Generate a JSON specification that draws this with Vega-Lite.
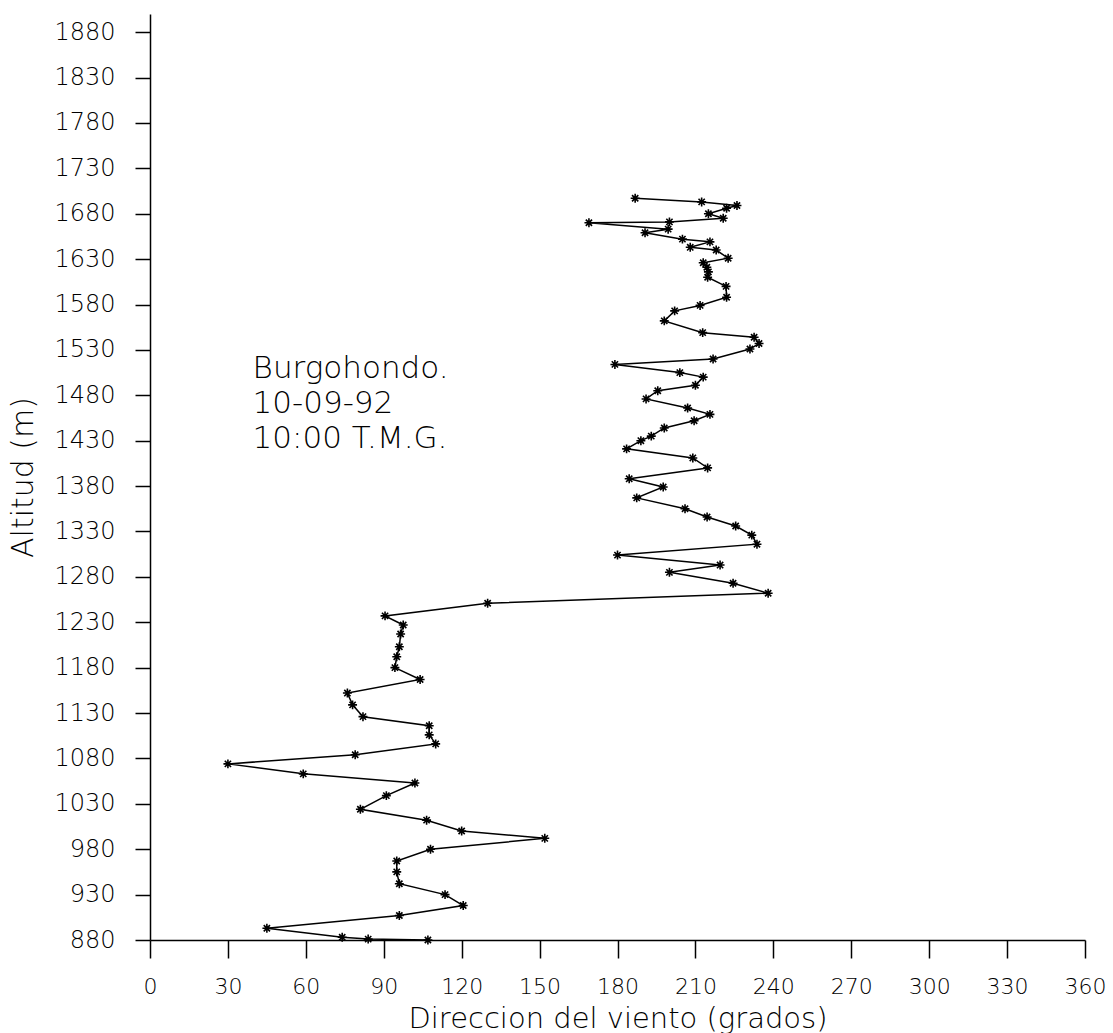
{
  "$schema": "https://vega.github.io/schema/vega-lite/v6.json",
  "width": 935,
  "height": 926,
  "autosize": {"type": "none"},
  "padding": {"left": 150, "top": 14, "right": 28, "bottom": 93},
  "background": "white",
  "config": {
    "view": {"stroke": null},
    "font": "DejaVu Sans",
    "axis": {
      "domainColor": "black",
      "domainWidth": 1.5,
      "tickColor": "black",
      "tickWidth": 1.5,
      "labelColor": "black",
      "titleColor": "black",
      "labelFont": "DejaVu Sans",
      "titleFont": "DejaVu Sans",
      "labelFontWeight": 200,
      "titleFontWeight": 200,
      "labelFontSize": 24,
      "grid": false,
      "format": "d"
    }
  },
  "datasets": {
    "wind": [
      {"alt": 880, "dir": 107},
      {"alt": 881, "dir": 84},
      {"alt": 883, "dir": 74},
      {"alt": 893, "dir": 45},
      {"alt": 907, "dir": 96},
      {"alt": 918, "dir": 120.6},
      {"alt": 930, "dir": 113.6},
      {"alt": 942, "dir": 96},
      {"alt": 955, "dir": 95},
      {"alt": 967, "dir": 95},
      {"alt": 980, "dir": 108},
      {"alt": 992, "dir": 152},
      {"alt": 1000, "dir": 120},
      {"alt": 1012, "dir": 106.5},
      {"alt": 1024, "dir": 81},
      {"alt": 1039, "dir": 91},
      {"alt": 1053, "dir": 102},
      {"alt": 1063, "dir": 59},
      {"alt": 1074, "dir": 30},
      {"alt": 1084, "dir": 79},
      {"alt": 1096, "dir": 110},
      {"alt": 1106, "dir": 107.5},
      {"alt": 1116, "dir": 107.5},
      {"alt": 1126, "dir": 82},
      {"alt": 1139, "dir": 78},
      {"alt": 1152, "dir": 76},
      {"alt": 1167, "dir": 104},
      {"alt": 1180, "dir": 94.3},
      {"alt": 1192, "dir": 95},
      {"alt": 1203, "dir": 96},
      {"alt": 1217, "dir": 96.5},
      {"alt": 1227, "dir": 97.5},
      {"alt": 1237, "dir": 90.5},
      {"alt": 1251, "dir": 130},
      {"alt": 1262, "dir": 238},
      {"alt": 1273, "dir": 224.5},
      {"alt": 1285, "dir": 200},
      {"alt": 1293, "dir": 219.5},
      {"alt": 1304, "dir": 180},
      {"alt": 1316, "dir": 233.7},
      {"alt": 1326, "dir": 231.7},
      {"alt": 1336, "dir": 225.5},
      {"alt": 1346, "dir": 214.5},
      {"alt": 1355, "dir": 206},
      {"alt": 1367, "dir": 187.4},
      {"alt": 1379, "dir": 197.6},
      {"alt": 1388, "dir": 184.5},
      {"alt": 1400, "dir": 214.7},
      {"alt": 1411, "dir": 209},
      {"alt": 1421, "dir": 183.5},
      {"alt": 1430, "dir": 189},
      {"alt": 1435, "dir": 193},
      {"alt": 1444, "dir": 198},
      {"alt": 1452, "dir": 209.5},
      {"alt": 1459, "dir": 215.6},
      {"alt": 1466, "dir": 207},
      {"alt": 1476, "dir": 191},
      {"alt": 1485, "dir": 195.5},
      {"alt": 1491, "dir": 210},
      {"alt": 1500, "dir": 213},
      {"alt": 1505, "dir": 204},
      {"alt": 1514, "dir": 179},
      {"alt": 1520, "dir": 216.8},
      {"alt": 1531, "dir": 231},
      {"alt": 1537, "dir": 234.5},
      {"alt": 1544, "dir": 232.6},
      {"alt": 1549, "dir": 212.8},
      {"alt": 1562, "dir": 198},
      {"alt": 1573, "dir": 202},
      {"alt": 1579, "dir": 211.8},
      {"alt": 1588, "dir": 222},
      {"alt": 1600, "dir": 221.8},
      {"alt": 1610, "dir": 214.7},
      {"alt": 1616, "dir": 215},
      {"alt": 1621, "dir": 214.4},
      {"alt": 1626, "dir": 213},
      {"alt": 1631, "dir": 222.6},
      {"alt": 1640, "dir": 218},
      {"alt": 1643, "dir": 208},
      {"alt": 1649, "dir": 215.6},
      {"alt": 1652, "dir": 205},
      {"alt": 1659, "dir": 190.6},
      {"alt": 1663, "dir": 199.5},
      {"alt": 1670, "dir": 169},
      {"alt": 1671, "dir": 200},
      {"alt": 1675, "dir": 220.7},
      {"alt": 1680, "dir": 215},
      {"alt": 1686, "dir": 222},
      {"alt": 1689, "dir": 226},
      {"alt": 1693, "dir": 212.4},
      {"alt": 1697, "dir": 186.8}
    ],
    "note": [
      {"label": "Burgohondo.", "line": 0},
      {"label": "10-09-92", "line": 1},
      {"label": "10:00 T.M.G.", "line": 2}
    ]
  },
  "layer": [
    {
      "data": {"name": "wind"},
      "mark": {"type": "line", "color": "black", "strokeWidth": 1.5},
      "encoding": {
        "x": {
          "field": "dir",
          "type": "quantitative",
          "scale": {"domain": [0, 360], "nice": false, "zero": false},
          "axis": {
            "values": [0, 30, 60, 90, 120, 150, 180, 210, 240, 270, 300, 330, 360],
            "title": "Direccion del viento (grados)",
            "titleFontSize": 29,
            "titleBaseline": "alphabetic",
            "titleY": 87,
            "tickSize": 18,
            "labelFontSize": 22,
            "labelPadding": 35,
            "labelBaseline": "alphabetic",
            "labelFlush": false
          }
        },
        "y": {
          "field": "alt",
          "type": "quantitative",
          "scale": {"domain": [880, 1900], "nice": false, "zero": false},
          "axis": {
            "values": [880, 930, 980, 1030, 1080, 1130, 1180, 1230, 1280, 1330, 1380, 1430, 1480, 1530, 1580, 1630, 1680, 1730, 1780, 1830, 1880],
            "title": "Altitud (m)",
            "titleFontSize": 30,
            "titleAngle": -90,
            "titleBaseline": "alphabetic",
            "titleAlign": "center",
            "titleX": -118,
            "titleY": 463,
            "tickSize": 15,
            "labelPadding": 20,
            "labelFlush": false
          }
        },
        "order": {"field": "alt", "type": "quantitative"}
      }
    },
    {
      "data": {"name": "wind"},
      "mark": {
        "type": "point",
        "shape": "M-1,0L1,0M0,-1L0,1M-0.7,-0.7L0.7,0.7M-0.7,0.7L0.7,-0.7",
        "filled": false,
        "stroke": "black",
        "strokeWidth": 1.6,
        "size": 80,
        "opacity": 1
      },
      "encoding": {
        "x": {"field": "dir", "type": "quantitative"},
        "y": {"field": "alt", "type": "quantitative"}
      }
    },
    {
      "data": {"name": "note"},
      "mark": {
        "type": "text",
        "font": "DejaVu Sans",
        "fontWeight": 200,
        "fontSize": 31,
        "align": "left",
        "baseline": "alphabetic",
        "color": "black"
      },
      "encoding": {
        "text": {"field": "label", "type": "nominal"},
        "x": {"datum": 39.5},
        "y": {"datum": 1499},
        "yOffset": {"field": "line", "type": "quantitative", "scale": {"domain": [0, 2], "range": [0, 70]}}
      }
    }
  ]
}
